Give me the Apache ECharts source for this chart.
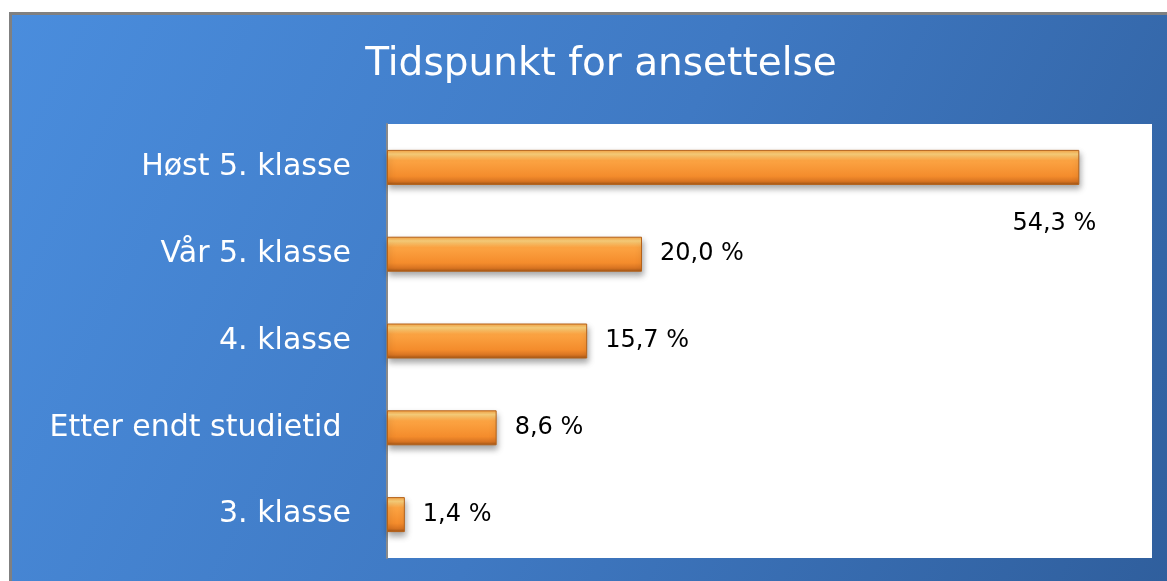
<!DOCTYPE html>
<html><head><meta charset="utf-8">
<script src="https://cdn.jsdelivr.net/npm/echarts@6/dist/echarts.min.js"></script>
<style>html,body{margin:0;padding:0;background:#fff}#c{width:1167px;height:581px}</style>
</head><body><div id="c"></div>
<script>
var categories = ["Høst 5. klasse", "Vår 5. klasse", "4. klasse", "Etter endt studietid ", "3. klasse"];
var values = [54.3, 20.0, 15.7, 8.6, 1.4];
var titleText = "Tidspunkt for ansettelse";

var FONT = "DejaVu Sans";
var chart = echarts.init(document.getElementById('c'), null, {renderer: 'canvas'});

var barData = values.map(function (v, i) {
  var d = {value: v};
  if (i === 0) {
    d.label = {position: ['100%', '100%'], offset: [-25, 39], align: 'center', verticalAlign: 'middle', distance: 0};
  }
  return d;
});

chart.setOption({
  animation: false,
  graphic: [{
    type: 'rect', z: -10, silent: true,
    shape: {x: 10.5, y: 13.5, width: 1170, height: 580},
    style: {
      fill: new echarts.graphic.LinearGradient(0, 0, 1, 1, [
        {offset: 0, color: '#4a8ddd'},
        {offset: 0.5, color: '#3f79c3'},
        {offset: 1, color: '#2f5e9c'}
      ]),
      stroke: '#808080', lineWidth: 3
    }
  }],
  title: {
    text: titleText, left: 596, top: 40, textAlign: 'center',
    textStyle: {color: '#ffffff', fontFamily: FONT, fontWeight: 'normal', fontSize: 39}
  },
  grid: {left: 387, top: 124, right: 15, bottom: 23, show: true, backgroundColor: '#ffffff', borderWidth: 0, containLabel: false},
  xAxis: {type: 'value', min: 0, max: 60, show: false},
  yAxis: {
    type: 'category', data: categories, inverse: true,
    axisLine: {show: true, lineStyle: {color: '#8a8a8a', width: 2}},
    axisTick: {show: false},
    axisLabel: {color: '#ffffff', fontFamily: FONT, fontSize: 30, margin: 36, padding: [6, 0, 0, 0]}
  },
  series: [{
    type: 'bar', data: barData, barWidth: 35,
    itemStyle: {
      color: new echarts.graphic.LinearGradient(0, 0, 0, 1, [
        {offset: 0, color: '#f6a040'},
        {offset: 0.12, color: '#fdd27c'},
        {offset: 0.3, color: '#fca443'},
        {offset: 0.75, color: '#f48c2c'},
        {offset: 0.9, color: '#d87422'},
        {offset: 1, color: '#9c5214'}
      ]),
      borderColor: '#b4621a', borderWidth: 1,
      shadowColor: 'rgba(0,0,0,0.35)', shadowBlur: 6, shadowOffsetY: 4, shadowOffsetX: 1
    },
    label: {
      show: true, position: 'right', distance: 18, color: '#000000',
      fontFamily: FONT, fontSize: 24, padding: [8, 0, 0, 0],
      formatter: function (p) { return p.value.toFixed(1).replace('.', ',') + ' %'; }
    }
  }]
});
</script></body></html>
